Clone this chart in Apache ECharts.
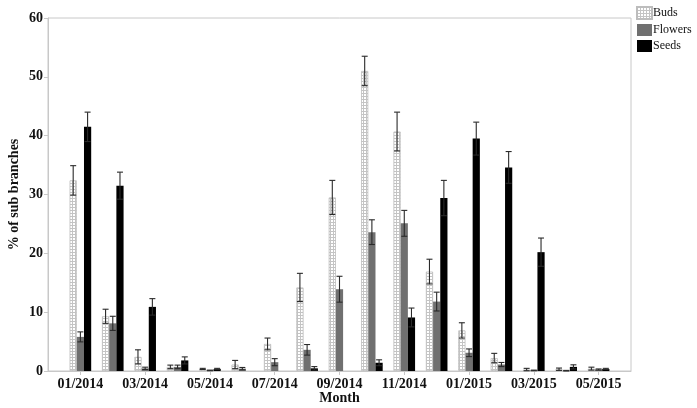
<!DOCTYPE html>
<html>
<head>
<meta charset="utf-8">
<script src="https://cdn.jsdelivr.net/npm/echarts@6/dist/echarts.min.js"></script>
<style>
  html, body { margin: 0; padding: 0; background: #fff; }
  #chart { width: 697px; height: 408px; }
</style>
</head>
<body>
<div id="chart"></div>
<script>
// --- données ---
const months = ['01/2014', '02/2014', '03/2014', '04/2014', '05/2014', '06/2014', '07/2014', '08/2014', '09/2014',
                '10/2014', '11/2014', '12/2014', '01/2015', '02/2015', '03/2015', '04/2015', '05/2015'];

const buds       = [32.4, 9.3, 2.4, 0.7, 0.35, 1.1, 4.6, 14.2, 29.5, 51.0, 40.7, 16.9, 6.9, 2.2, 0.25, 0.3, 0.4];
const budsErr    = [2.5, 1.2, 1.2, 0.3, 0.1, 0.7, 1.0, 2.4, 2.9, 2.5, 3.3, 2.1, 1.3, 0.8, 0.2, 0.2, 0.25];
const flowers    = [5.8, 8.1, 0.45, 0.7, 0.1, 0.4, 1.5, 3.6, 13.9, 23.6, 25.1, 11.8, 3.1, 1.1, 0.1, 0.05, 0.25];
const flowersErr = [0.85, 1.2, 0.2, 0.3, 0.05, 0.2, 0.6, 0.9, 2.2, 2.1, 2.2, 1.6, 0.65, 0.35, 0.05, 0.05, 0.1];
const seeds      = [41.5, 31.5, 10.9, 1.8, 0.35, 0, 0, 0.45, 0, 1.4, 9.1, 29.4, 39.5, 34.6, 20.2, 0.7, 0.35];
const seedsErr   = [2.5, 2.3, 1.4, 0.6, 0.1, 0, 0, 0.3, 0, 0.5, 1.6, 3.0, 2.8, 2.7, 2.4, 0.35, 0.1];

const seriesNames = ['Buds', 'Flowers', 'Seeds'];

// --- mise en page ---
const FONT = '"Liberation Serif", "Times New Roman", serif';
const BAR_W = 7.2;
const AXIS_GRAY = '#c8c8c8';

// catégories vides aux deux bouts pour le décalage du premier/dernier mois
const axisCats = [''].concat(months, ['']);
const pad = arr => [null].concat(arr, [null]);

// motif quadrillé pour "Buds"
function makeGridPattern() {
    const c = document.createElement('canvas');
    c.width = 3; c.height = 3;
    const ctx = c.getContext('2d');
    ctx.fillStyle = '#ffffff';
    ctx.fillRect(0, 0, 3, 3);
    ctx.fillStyle = '#c4c4c4';
    ctx.fillRect(0, 0, 3, 1);
    ctx.fillRect(0, 0, 1, 3);
    return c;
}

function errorData(vals, errs) {
    const out = [];
    vals.forEach((v, i) => {
        if (v > 0 && errs[i] > 0) out.push([i + 1, Math.max(0, v - errs[i]), v + errs[i]]);
    });
    return out;
}

function errorSeries(vals, errs, offset) {
    return {
        type: 'custom',
        z: 10,
        silent: true,
        encode: { x: 0, y: [1, 2] },
        data: errorData(vals, errs),
        renderItem: (params, api) => {
            const x = api.coord([api.value(0), 0])[0] + offset;
            const yLo = api.coord([api.value(0), api.value(1)])[1];
            const yHi = api.coord([api.value(0), api.value(2)])[1];
            const style = { stroke: '#2a2a2a', lineWidth: 1.1 };
            const cap = 3;
            return {
                type: 'group',
                children: [
                    { type: 'line', shape: { x1: x, y1: yLo, x2: x, y2: yHi }, style },
                    { type: 'line', shape: { x1: x - cap, y1: yHi, x2: x + cap, y2: yHi }, style },
                    { type: 'line', shape: { x1: x - cap, y1: yLo, x2: x + cap, y2: yLo }, style }
                ]
            };
        }
    };
}

const chart = echarts.init(document.getElementById('chart'), null, { renderer: 'canvas' });

const labelIdx = idx => idx % 2 === 1;

const option = {
    animation: false,
    backgroundColor: '#fff',
    textStyle: { fontFamily: FONT },
    grid: {
        left: 48, right: 66, top: 18, bottom: 37,
        outerBoundsMode: 'none',
        containLabel: false,
        show: true, borderColor: AXIS_GRAY, borderWidth: 1
    },
    legend: {
        orient: 'vertical',
        left: 636, top: 6,
        padding: 0,
        itemWidth: 15, itemHeight: 12, itemGap: 4,
        icon: 'rect',
        data: seriesNames,
        textStyle: { fontFamily: FONT, fontSize: 12, color: '#111', padding: [0, 0, 0, -4] }
    },
    xAxis: {
        type: 'category',
        data: axisCats,
        boundaryGap: false,
        name: 'Month',
        nameLocation: 'middle',
        nameGap: 20,
        nameMoveOverlap: false,
        nameTextStyle: { fontFamily: FONT, fontSize: 14, fontWeight: 'bold', color: '#111' },
        axisLine: { lineStyle: { color: AXIS_GRAY } },
        axisTick: { show: true, interval: labelIdx, length: 4, lineStyle: { color: AXIS_GRAY } },
        axisLabel: { interval: labelIdx, margin: 6, fontFamily: FONT, fontSize: 14, fontWeight: 'bold', color: '#111' },
        splitLine: { show: false }
    },
    yAxis: {
        type: 'value',
        min: 0, max: 60, interval: 10,
        name: '% of sub branches',
        nameLocation: 'middle',
        nameGap: 27,
        nameMoveOverlap: false,
        nameTextStyle: { fontFamily: FONT, fontSize: 14, fontWeight: 'bold', color: '#111' },
        axisLine: { show: true, lineStyle: { color: AXIS_GRAY } },
        axisTick: { show: true, length: 4, lineStyle: { color: AXIS_GRAY } },
        axisLabel: { margin: 5, fontFamily: FONT, fontSize: 14, fontWeight: 'bold', color: '#111' },
        splitLine: { show: false }
    },
    series: [
        {
            name: 'Buds', type: 'bar', barWidth: BAR_W, barGap: '0%',
            data: pad(buds),
            itemStyle: { color: { image: makeGridPattern(), repeat: 'repeat' }, borderColor: '#bdbdbd', borderWidth: 0.8 }
        },
        {
            name: 'Flowers', type: 'bar', barWidth: BAR_W, barGap: '0%',
            data: pad(flowers),
            itemStyle: { color: '#707070' }
        },
        {
            name: 'Seeds', type: 'bar', barWidth: BAR_W, barGap: '0%',
            data: pad(seeds),
            itemStyle: { color: '#000000' }
        },
        errorSeries(buds, budsErr, -BAR_W),
        errorSeries(flowers, flowersErr, 0),
        errorSeries(seeds, seedsErr, BAR_W)
    ]
};

chart.setOption(option);
window.addEventListener('resize', () => chart.resize());
</script>
</body>
</html>
